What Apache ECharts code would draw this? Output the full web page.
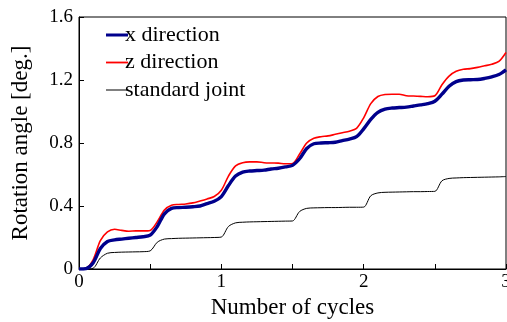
<!DOCTYPE html>
<html>
<head>
<meta charset="utf-8">
<script src="https://cdn.jsdelivr.net/npm/echarts@6/dist/echarts.min.js"></script>
<style>
  html, body { margin: 0; padding: 0; background: #fff; }
  #chart { width: 507px; height: 322px; }
</style>
</head>
<body>
<div id="chart"></div>
<script>
// Number of cycles (sampled every 0.05)
const cycles = [
  0.00,0.05,0.10,0.15,0.20,0.25,0.30,0.35,0.40,0.45,
  0.50,0.55,0.60,0.65,0.70,0.75,0.80,0.85,0.90,0.95,
  1.00,1.05,1.10,1.15,1.20,1.25,1.30,1.35,1.40,1.45,
  1.50,1.55,1.60,1.65,1.70,1.75,1.80,1.85,1.90,1.95,
  2.00,2.05,2.10,2.15,2.20,2.25,2.30,2.35,2.40,2.45,
  2.50,2.55,2.60,2.65,2.70,2.75,2.80,2.85,2.90,2.95,
  3.00
];

// Rotation angle [deg.]
const xDirection = [
  0.000,0.003,0.040,0.130,0.175,0.185,0.190,0.195,0.200,0.205,
  0.215,0.270,0.350,0.385,0.390,0.392,0.395,0.400,0.415,0.430,
  0.460,0.530,0.590,0.615,0.622,0.625,0.628,0.635,0.640,0.648,
  0.658,0.700,0.765,0.795,0.800,0.802,0.805,0.815,0.825,0.840,
  0.890,0.950,0.995,1.015,1.022,1.025,1.028,1.035,1.042,1.050,
  1.065,1.110,1.160,1.190,1.200,1.202,1.203,1.210,1.220,1.235,
  1.265
];

const zDirection = [
  0.000,0.005,0.060,0.180,0.235,0.252,0.245,0.240,0.242,0.242,
  0.245,0.300,0.375,0.405,0.410,0.413,0.420,0.432,0.445,0.460,
  0.500,0.590,0.655,0.675,0.680,0.680,0.675,0.673,0.672,0.668,
  0.670,0.730,0.800,0.830,0.840,0.845,0.855,0.865,0.875,0.893,
  0.960,1.050,1.095,1.108,1.110,1.110,1.100,1.098,1.096,1.094,
  1.100,1.170,1.225,1.255,1.268,1.272,1.280,1.290,1.300,1.318,
  1.375
];

const standardJoint = [
  0.000,0.000,0.005,0.070,0.100,0.105,0.107,0.108,0.109,0.110,
  0.115,0.170,0.190,0.193,0.195,0.196,0.197,0.198,0.199,0.200,
  0.203,0.270,0.293,0.297,0.299,0.300,0.301,0.302,0.303,0.304,
  0.305,0.365,0.385,0.388,0.389,0.390,0.390,0.391,0.392,0.392,
  0.393,0.465,0.483,0.487,0.488,0.489,0.490,0.491,0.491,0.492,
  0.493,0.560,0.575,0.578,0.580,0.581,0.582,0.583,0.584,0.585,
  0.587
];

// Legend entries, top to bottom
const seriesNames = ['x direction', 'z direction', 'standard joint'];

const pairs = vals => cycles.map((c, i) => [c, vals[i]]);

const FONT = 'Liberation Serif';

const chart = echarts.init(document.getElementById('chart'), null, { renderer: 'canvas' });

chart.setOption({
  animation: false,
  backgroundColor: '#fff',
  textStyle: { fontFamily: FONT, color: '#000' },
  grid: [
    {
      left: 79, right: 1, top: 17, bottom: 53,
      outerBoundsMode: 'none', containLabel: false,
      show: true, borderColor: '#000', borderWidth: 1, backgroundColor: 'transparent'
    },
    // strip that carries the serif legend captions (three rows, 27.5px apart)
    {
      left: 125, top: 21.25, width: 200, height: 82.5,
      outerBoundsMode: 'none', containLabel: false, show: false
    }
  ],
  legend: {
    left: 101, top: 19, orient: 'vertical', itemGap: 5.5,
    itemWidth: 22, itemHeight: 22,
    selectedMode: false,
    textStyle: { fontFamily: FONT, fontSize: 22, color: 'rgba(0,0,0,0)' },
    data: [
      { name: seriesNames[0], itemStyle: { color: '#00008c' }, icon: 'path://M0,9.5 L22,9.5 L22,12.5 L0,12.5 Z' },
      { name: seriesNames[1], itemStyle: { color: '#ff0000' }, icon: 'path://M0,10.1 L22,10.1 L22,11.9 L0,11.9 Z' },
      { name: seriesNames[2], itemStyle: { color: '#000000' }, icon: 'path://M0,10.5 L22,10.5 L22,11.5 L0,11.5 Z' }
    ]
  },
  xAxis: [
    {
      type: 'value', min: 0, max: 3, interval: 0.5,
      name: 'Number of cycles', nameLocation: 'middle', nameGap: 24,
      nameTextStyle: { fontFamily: FONT, fontSize: 23, color: '#000' },
      axisLine: { lineStyle: { color: '#000', width: 1 } },
      axisTick: { inside: true, length: 5, lineStyle: { color: '#000' } },
      axisLabel: {
        fontFamily: FONT, fontSize: 19, color: '#000', margin: 4,
        formatter: v => (Math.abs(v - Math.round(v)) < 1e-6 ? String(Math.round(v)) : '')
      },
      splitLine: { show: false }
    },
    {
      gridIndex: 1, type: 'value', show: false
    }
  ],
  yAxis: [
    {
      type: 'value', min: 0, max: 1.6, interval: 0.4,
      name: 'Rotation angle [deg.]', nameLocation: 'middle', nameGap: 47, nameRotate: 90,
      nameTextStyle: { fontFamily: FONT, fontSize: 23, color: '#000' },
      axisLine: { show: true, lineStyle: { color: '#000', width: 1 } },
      axisTick: { show: true, inside: true, length: 5, lineStyle: { color: '#000' } },
      axisLabel: { fontFamily: FONT, fontSize: 19, color: '#000', margin: 6 },
      splitLine: { show: false }
    },
    {
      gridIndex: 1, type: 'category', inverse: true, data: seriesNames,
      axisLine: { show: false }, axisTick: { show: false }, splitLine: { show: false },
      axisLabel: {
        inside: true, margin: 0, fontFamily: FONT, fontSize: 22, color: '#000',
        align: 'left', verticalAlign: 'middle', interval: 0
      }
    }
  ],
  series: [
    {
      name: seriesNames[2], type: 'line', data: pairs(standardJoint),
      showSymbol: false, smooth: 0.3, lineStyle: { color: '#000', width: 1 }, z: 2
    },
    {
      name: seriesNames[1], type: 'line', data: pairs(zDirection),
      showSymbol: false, smooth: 0.3, lineStyle: { color: '#ff0000', width: 1.6 }, z: 3
    },
    {
      name: seriesNames[0], type: 'line', data: pairs(xDirection),
      showSymbol: false, smooth: 0.3, lineStyle: { color: '#00008c', width: 3.4 }, z: 4
    }
  ]
});
</script>
</body>
</html>
